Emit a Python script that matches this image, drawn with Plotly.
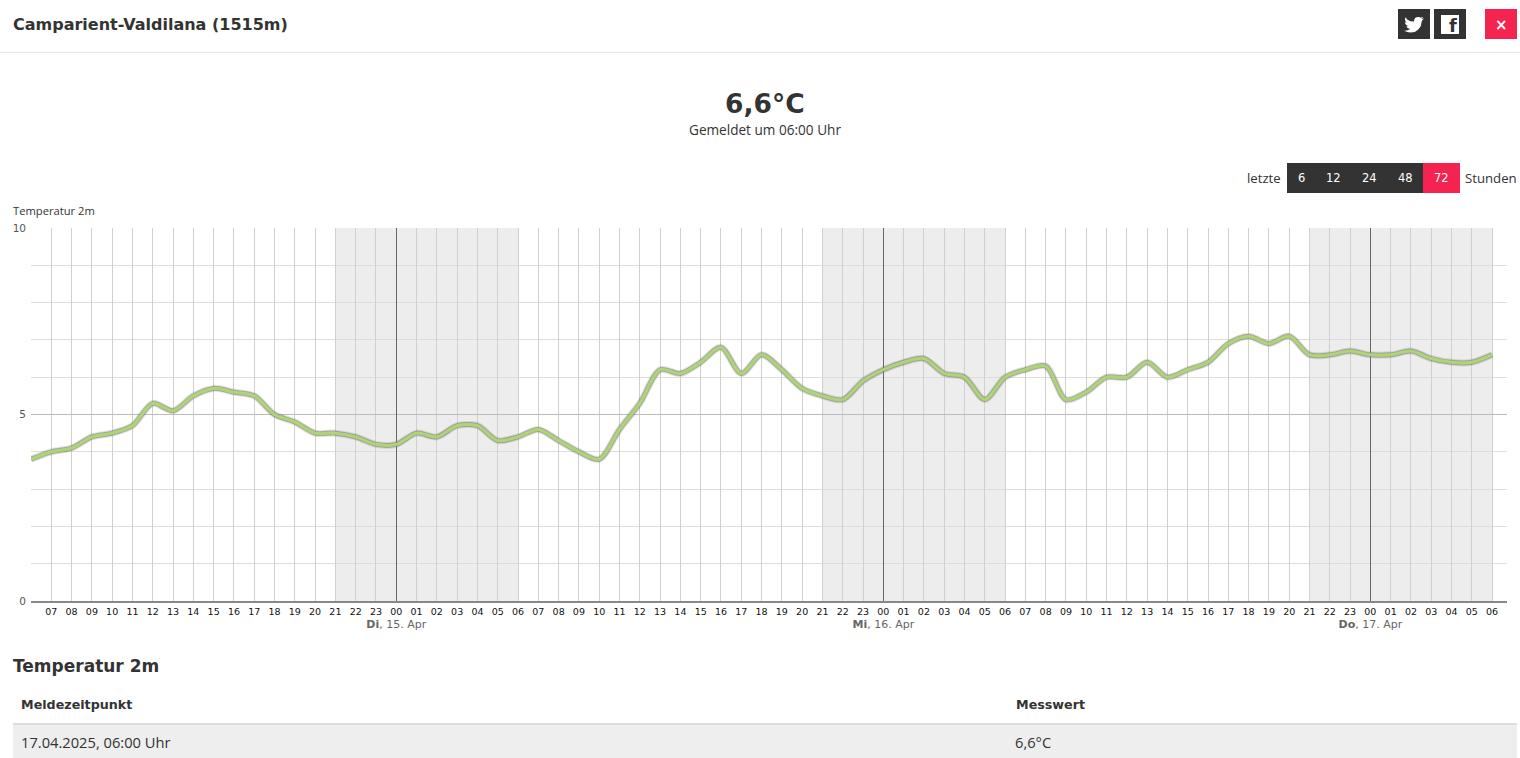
import pandas as pd
import plotly.graph_objects as go

START = "2025-04-14 06:00"
TEMPERATURE = [3.8, 4.0, 4.1, 4.4, 4.5, 4.7, 5.3, 5.1, 5.5, 5.7, 5.6, 5.5, 5.0, 4.8, 4.5, 4.5, 4.4, 4.2,
               4.2, 4.5, 4.4, 4.7, 4.7, 4.3, 4.4, 4.6, 4.3, 4.0, 3.8, 4.6, 5.3, 6.2, 6.1, 6.4, 6.8, 6.1,
               6.6, 6.2, 5.7, 5.5, 5.4, 5.9, 6.2, 6.4, 6.5, 6.1, 6.0, 5.4, 6.0, 6.2, 6.3, 5.4, 5.6, 6.0,
               6.0, 6.4, 6.0, 6.2, 6.4, 6.9, 7.1, 6.9, 7.1, 6.6, 6.6, 6.7, 6.6, 6.6, 6.7, 6.5, 6.4, 6.4, 6.6]
DAY_LABELS = {"2025-04-15": "<b>Di</b>, 15. Apr", "2025-04-16": "<b>Mi</b>, 16. Apr", "2025-04-17": "<b>Do</b>, 17. Apr"}
NIGHTS = [("2025-04-14 21:00", "2025-04-15 06:00"), ("2025-04-15 21:00", "2025-04-16 06:00"),
          ("2025-04-16 21:00", "2025-04-17 06:00")]
Y_TICKS = [0, 5, 10]
BUTTONS = ["6", "12", "24", "48", "72"]

times = pd.date_range(START, periods=len(TEMPERATURE), freq="h")
tick_text = []
for t in times:
    label = t.strftime("%H")
    day = t.strftime("%Y-%m-%d")
    if t.hour == 0 and day in DAY_LABELS:
        label += f"<br><span style='font-size:11px;color:#666'>{DAY_LABELS[day]}</span>"
    tick_text.append("" if t == times[0] else label)
midnights = list(times[times.hour == 0])
x_range = [times[0], times[-1] + pd.Timedelta(minutes=44)]

W, H = 1520, 758
L, R, T, B = 31, 13, 228, 157
PW, PH = W - L - R, H - T - B
px = lambda x: (x - L) / PW
py = lambda y: (H - B - y) / PH
DARK = "#333333"
RED = "#f5234f"
FONT = "Open Sans, sans-serif"
WIDE = "DejaVu Sans, sans-serif"

shapes, annos = [], []


def rect(x0, y0, x1, y1, color):
    shapes.append(dict(type="rect", xref="paper", yref="paper", x0=px(x0), x1=px(x1), y0=py(y0), y1=py(y1),
                       fillcolor=color, line_width=0, layer="above"))


def text(x, y, s, size=13, color=DARK, anchor="left", family=FONT):
    annos.append(dict(xref="paper", yref="paper", x=px(x), y=py(y), text=s, showarrow=False, xanchor=anchor,
                      yanchor="middle", font=dict(size=size, color=color, family=family), borderpad=0, borderwidth=0))


for a, b in NIGHTS:
    shapes.append(dict(type="rect", xref="x", yref="paper", x0=a, x1=b, y0=0, y1=1, fillcolor="#ededed",
                       line_width=0, layer="below"))

# page furniture
rect(0, 52, 1520, 53, "#e6e6e6")
rect(1398, 9, 1430, 39, DARK)
rect(1434, 9, 1466, 39, DARK)
rect(1485, 9, 1517, 39, RED)
rect(1441, 15, 1459, 34, "#ffffff")
rect(1287, 163, 1423, 193, DARK)
rect(1423, 163, 1460, 193, RED)
rect(13, 723, 1517, 725, "#dddddd")
rect(13, 725, 1517, 758, "#eeeeee")

bird = [(23.95, 4.57), (21.13, 5.35), (23.29, 2.62), (20.16, 3.81), (18.3, 3.0), (16.57, 2.85), (14.2, 3.6), (12.6, 5.3),
        (11.78, 8.29), (7.7, 8.1), (4.07, 6.1), (1.64, 3.16), (0.97, 5.64), (1.5, 7.9), (3.16, 9.73), (0.93, 9.12),
        (1.6, 11.6), (4.88, 14), (2.67, 14.09), (4.1, 16.2), (7.27, 17.5), (4.5, 19), (1.17, 19.6), (0, 19.54),
        (3.6, 21.2), (7.56, 21.75), (13, 21), (17.2, 18.2), (20.3, 13.9), (21.54, 7.75), (24, 4.59)]
bird_scale = 0.82
path = "M" + " L".join(f"{(x - 12) * bird_scale:.2f},{(12 - y) * bird_scale:.2f}" for x, y in bird) + " Z"
shapes.append(dict(type="path", xref="paper", yref="paper", xsizemode="pixel", ysizemode="pixel",
                   xanchor=px(1414), yanchor=py(24.5), path=path, fillcolor="#ffffff", line_width=0, layer="above"))

text(12.5, 24.5, "<b>Camparient-Valdilana (1515m)</b>", 16, DARK, family=WIDE)
text(1453, 25.5, "<b>f</b>", 18, DARK, "center", WIDE)
text(1501, 24.5, "<b>×</b>", 15, "#ffffff", "center", WIDE)
text(765, 103, "<b>6,6°C</b>", 26.5, DARK, "center", WIDE)
text(765, 129, "Gemeldet um 06:00 Uhr", 13.6, DARK, "center")
text(1281, 178, "letzte", 13.2, DARK, "right")
text(1465, 178, "Stunden", 13.2, DARK)
for b, cx in zip(BUTTONS, [1301, 1333, 1369, 1405, 1441]):
    text(cx, 178, b, 11.5, "#ffffff", "center", WIDE)
text(12.5, 210.5, "Temperatur 2m", 11.2, DARK)
text(13, 666, "<b>Temperatur 2m</b>", 17, DARK, family=WIDE)
text(20.5, 704, "<b>Meldezeitpunkt</b>", 12.7, DARK, family=WIDE)
text(1015.5, 704, "<b>Messwert</b>", 12.7, DARK, family=WIDE)
text(20.5, 742, "17.04.2025, 06:00 Uhr", 14.7, DARK)
text(1015, 742, "6,6°C", 14.7, DARK)

fig = go.Figure()
# invisible trace that brings up the overlay axis holding the darker midnight grid lines
fig.add_scatter(x=midnights, y=[5] * len(midnights), xaxis="x2", mode="lines", hoverinfo="skip",
                line=dict(width=0), opacity=0, showlegend=False)
for width, color in ((7, "rgba(120,130,105,0.22)"), (5, "rgba(115,125,100,0.55)"), (3, "#aed477")):
    fig.add_scatter(x=times, y=TEMPERATURE, mode="lines", hoverinfo="skip",
                    line=dict(color=color, width=width, shape="spline", smoothing=0.85))
fig.update_layout(
    width=W, height=H, showlegend=False, paper_bgcolor="#ffffff", plot_bgcolor="#ffffff",
    margin=dict(l=L, r=R, t=T, b=B, pad=0), shapes=shapes, annotations=annos,
    xaxis=dict(type="date", range=x_range, tickmode="array",
               tickvals=list(times), ticktext=tick_text, tickangle=0, showgrid=True, gridcolor="#d0d0d0", gridwidth=1,
               showline=True, linecolor="#888888", linewidth=2, ticks="", zeroline=False,
               tickfont=dict(size=9.5, color="#111111", family="DejaVu Sans, sans-serif"), ticklabelstandoff=1),
    xaxis2=dict(type="date", range=x_range, overlaying="x", side="bottom", tickmode="array", tickvals=midnights,
                ticktext=[""] * len(midnights), showgrid=True, gridcolor="#666666", gridwidth=1, ticks="",
                showline=False, zeroline=False),
    yaxis=dict(range=[0, 10], tickmode="array", tickvals=Y_TICKS, showgrid=True, gridcolor="#bbbbbb", gridwidth=1,
               minor=dict(dtick=1, tick0=0, showgrid=True, gridcolor="#dddddd", gridwidth=1, ticks=""),
               zeroline=False, ticks="", showline=False,
               tickfont=dict(size=10.5, color="#555555", family=WIDE), ticklabelstandoff=4),
)
fig.write_html("out.html", config=dict(displayModeBar=False),
               post_script="document.body.style.margin='0';document.documentElement.style.overflow='hidden';")
